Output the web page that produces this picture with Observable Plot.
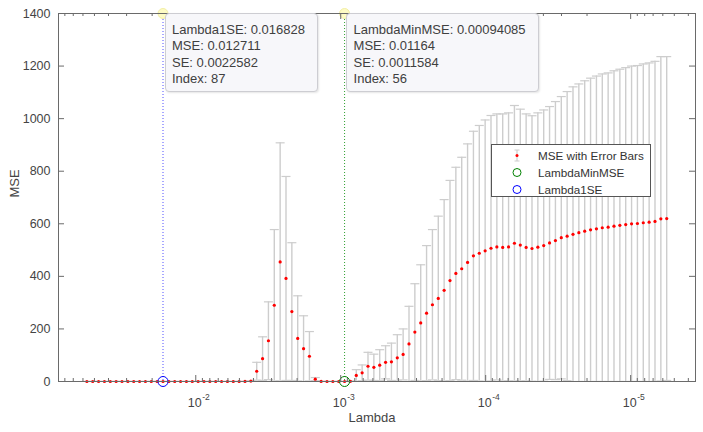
<!DOCTYPE html>
<html>
<head>
<meta charset="utf-8">
<script src="https://cdn.jsdelivr.net/npm/d3@7"></script>
<script src="https://cdn.jsdelivr.net/npm/@observablehq/plot@0.6"></script>
<style>
  body { margin: 0; background: #fff; }
  #wrap { position: relative; width: 703px; height: 432px; font-family: "Liberation Sans", Arial, Helvetica, sans-serif; }
  .tip { position: absolute; box-sizing: border-box; background: #f7f7fa; border: 1px solid #cdcdd2; border-radius: 4px;
         box-shadow: 1px 1px 2px rgba(0,0,0,0.10); color: #404040; font-size: 13px; line-height: 16.3px;
         padding: 8px 12px 0 6.5px; white-space: nowrap; height: 79px; }
  .legend { position: absolute; box-sizing: border-box; background: #fff; border: 1px solid #555; color: #333;
            font-size: 11.7px; }
  .legend .row { position: absolute; left: 0; height: 17px; line-height: 17px; white-space: nowrap; }
  .legend svg { position: absolute; left: 17px; top: 0; }
  .legend span { position: absolute; left: 46px; }
</style>
</head>
<body>
<div id="wrap"></div>
<script>
// Lambda values (left to right on the reversed log axis: index 100 ... 1)
const lambda = [5.6402e-2, 5.1391e-2, 4.6826e-2, 4.2666e-2, 3.8875e-2, 3.5422e-2, 3.2275e-2, 2.9408e-2, 2.6795e-2, 2.4415e-2,
  2.2246e-2, 2.0270e-2, 1.8469e-2, 1.6828e-2, 1.5333e-2, 1.3971e-2, 1.2730e-2, 1.1599e-2, 1.0569e-2, 9.6298e-3,
  8.7743e-3, 7.9948e-3, 7.2846e-3, 6.6374e-3, 6.0478e-3, 5.5105e-3, 5.0210e-3, 4.5749e-3, 4.1685e-3, 3.7982e-3,
  3.4608e-3, 3.1533e-3, 2.8732e-3, 2.6179e-3, 2.3854e-3, 2.1735e-3, 1.9804e-3, 1.8044e-3, 1.6441e-3, 1.4981e-3,
  1.3650e-3, 1.2437e-3, 1.1332e-3, 1.0326e-3, 9.4085e-4, 8.5726e-4, 7.8110e-4, 7.1171e-4, 6.4848e-4, 5.9087e-4,
  5.3838e-4, 4.9055e-4, 4.4698e-4, 4.0727e-4, 3.7109e-4, 3.3812e-4, 3.0808e-4, 2.8071e-4, 2.5578e-4, 2.3305e-4,
  2.1235e-4, 1.9349e-4, 1.7630e-4, 1.6063e-4, 1.4636e-4, 1.3336e-4, 1.2151e-4, 1.1072e-4, 1.0088e-4, 9.1921e-5,
  8.3755e-5, 7.6315e-5, 6.9535e-5, 6.3358e-5, 5.7729e-5, 5.2601e-5, 4.7928e-5, 4.3670e-5, 3.9791e-5, 3.6256e-5,
  3.3035e-5, 3.0100e-5, 2.7426e-5, 2.4990e-5, 2.2770e-5, 2.0747e-5, 1.8904e-5, 1.7224e-5, 1.5694e-5, 1.4300e-5,
  1.3030e-5, 1.1872e-5, 1.0817e-5, 9.856e-6, 8.981e-6, 8.183e-6, 7.456e-6, 6.794e-6, 6.190e-6, 5.640e-6];

// Cross-validated MSE for each lambda
const mse = [0.0213, 0.0201, 0.0189, 0.0178, 0.0168, 0.0160, 0.0152, 0.0146, 0.0140, 0.0136,
  0.0132, 0.0130, 0.0128, 0.012711, 0.0127, 0.0127, 0.0128, 0.0130, 0.0133, 0.0137,
  0.0143, 0.0151, 0.0163, 0.0182, 0.0214, 0.0266, 0.052, 0.21, 1.6, 39,
  87, 155, 290, 455, 392, 266, 164, 125, 96, 9,
  0.45, 0.06, 0.0162, 0.0121, 0.01164, 0.85, 23, 33, 58, 54,
  62, 73, 75, 90, 103, 143, 188, 223, 260, 292,
  316, 347, 384, 411, 429, 453, 478, 488, 497, 507,
  512, 510, 512, 526, 519, 510, 506, 511, 517, 527,
  536, 547, 553, 560, 566, 572, 577, 581, 585, 587,
  591, 594, 597, 600, 601, 604, 606, 609, 619, 620];

// Standard error of the MSE
const se = [0.0041, 0.0038, 0.0035, 0.0033, 0.0031, 0.0029, 0.0027, 0.0026, 0.0025, 0.0024,
  0.0023, 0.0023, 0.0022, 0.0022582, 0.0022, 0.0022, 0.0022, 0.0023, 0.0024, 0.0025,
  0.0027, 0.0030, 0.0034, 0.0041, 0.0052, 0.0071, 0.032, 0.19, 1.5, 34,
  83, 148, 288, 453, 388, 262, 162, 125, 94, 6,
  0.42, 0.05, 0.0031, 0.0013, 0.0011584, 0.8, 22, 30, 53, 50,
  59, 63, 71, 88, 97, 143, 184, 221, 257, 286,
  313, 345, 381, 404, 424, 451, 474, 486, 498, 505,
  506, 508, 510, 524, 517, 508, 505, 511, 516, 519,
  529, 537, 550, 561, 566, 572, 577, 581, 585, 587,
  591, 594, 597, 600, 601, 604, 606, 609, 617, 616];

// Selected lambdas (data tips)
const tipNames = ["Lambda1SE", "LambdaMinMSE"];
const tipLambda = [0.016828, 0.00094085];
const tipLambdaText = ["0.016828", "0.00094085"];
const tipMSE = [0.012711, 0.01164];
const tipMSEText = ["0.012711", "0.01164"];
const tipSEText = ["0.0022582", "0.0011584"];
const tipIndex = [87, 56];
const tipColor = ["#0000ff", "#008000"];
const tipLine = ["#5050ff", "#30a030"];

// Axis ticks
const yTicks = [0, 200, 400, 600, 800, 1000, 1200, 1400];
const xMajor = [1e-2, 1e-3, 1e-4, 1e-5];
const xExp = ["-2", "-3", "-4", "-5"];

const xDomain = [0.0885, 3.57e-6];
const yDomain = [0, 1400];

const rows = lambda.map((l, i) => ({lambda: l, mse: mse[i], lo: mse[i] - se[i], hi: mse[i] + se[i]}));
const tips = tipNames.map((n, i) => ({name: n, lambda: tipLambda[i], mse: tipMSE[i], color: tipColor[i], line: tipLine[i]}));

const xMinor = d3.scaleLog().domain([xDomain[1], xDomain[0]]).ticks()
  .filter(v => Math.abs(Math.log10(v) - Math.round(Math.log10(v))) > 1e-6);

const capSymbol = { draw(ctx) { ctx.moveTo(-4.5, 0); ctx.lineTo(4.5, 0); } };

const W = 703, H = 432, mL = 58, mR = 8, mT = 13, mB = 51;
const pw = W - mL - mR, ph = H - mT - mB;
const axisColor = "#6a6a6a";
const textColor = "#444";
const barColor = "#cdcdcd";

const chart = Plot.plot({
  width: W, height: H,
  marginLeft: mL, marginRight: mR, marginTop: mT, marginBottom: mB,
  x: {type: "log", domain: xDomain, axis: null},
  y: {domain: yDomain, axis: null},
  style: {fontFamily: '"Liberation Sans", Arial, Helvetica, sans-serif', color: textColor, background: "white"},
  marks: [
    // error bars
    Plot.ruleX(rows, {x: "lambda", y1: "lo", y2: "hi", stroke: barColor, strokeWidth: 1.4, clip: true}),
    Plot.dot(rows, {x: "lambda", y: "hi", symbol: capSymbol, r: 3, stroke: barColor, fill: "none", strokeWidth: 1.2, clip: true}),
    Plot.dot(rows, {x: "lambda", y: "lo", symbol: capSymbol, r: 3, stroke: barColor, fill: "none", strokeWidth: 1.2, clip: true}),
    // reference lines
    Plot.ruleX(tips, {x: "lambda", stroke: "line", strokeWidth: 1, strokeDasharray: "1,2"}),
    // MSE points
    Plot.dot(rows, {x: "lambda", y: "mse", r: 1.6, fill: "#ff0000", stroke: null}),
    // selected lambda circles
    Plot.dot(tips, {x: "lambda", y: "mse", r: 5, stroke: "color", fill: "none", strokeWidth: 1}),
    // data tip markers
    Plot.dot(tips, {x: "lambda", y: () => yDomain[1], r: 5, fill: "#fdfbc4", stroke: "#f3efa6", strokeWidth: 1}),
    // frame (box)
    Plot.frame({stroke: axisColor, strokeWidth: 1}),
    // y ticks (left & right, inward)
    Plot.tickY(yTicks, {y: d => d, insetRight: pw - 6, stroke: axisColor}),
    Plot.tickY(yTicks, {y: d => d, insetLeft: pw - 6, stroke: axisColor}),
    // x ticks (bottom & top, inward)
    Plot.tickX(xMajor, {x: d => d, insetTop: ph - 6, stroke: axisColor}),
    Plot.tickX(xMajor, {x: d => d, insetBottom: ph - 6, stroke: axisColor}),
    Plot.tickX(xMinor, {x: d => d, insetTop: ph - 3, stroke: axisColor}),
    Plot.tickX(xMinor, {x: d => d, insetBottom: ph - 3, stroke: axisColor}),
    // y tick labels
    Plot.text(yTicks, {y: d => d, frameAnchor: "left", dx: -8, textAnchor: "end", text: d => String(d), fontSize: 12.5, fill: textColor}),
    // x tick labels 10^k
    Plot.text(xMajor, {x: d => d, frameAnchor: "bottom", dy: 25, dx: 6, textAnchor: "end", text: () => "10", fontSize: 12.5, fill: textColor}),
    Plot.text(xMajor, {x: d => d, frameAnchor: "bottom", dy: 18, dx: 6.5, textAnchor: "start", text: (d, i) => xExp[i], fontSize: 8.5, fill: textColor}),
    // axis labels
    Plot.text(["Lambda"], {frameAnchor: "bottom", dy: 40, dx: -5, text: d => d, fontSize: 13, fill: textColor}),
    Plot.text(["MSE"], {frameAnchor: "left", dx: -44, rotate: -90, text: d => d, fontSize: 13, fill: textColor})
  ]
});

const wrap = document.getElementById("wrap");
wrap.append(chart);

// data tip boxes positioned from the scales
const sx = chart.scale("x");
tips.forEach((t, i) => {
  const d = document.createElement("div");
  d.className = "tip";
  d.style.left = (sx.apply(t.lambda) + 2) + "px";
  d.style.top = mT + "px";
  d.innerHTML = `${tipNames[i]}: ${tipLambdaText[i]}<br>MSE: ${tipMSEText[i]}<br>SE: ${tipSEText[i]}<br>Index: ${tipIndex[i]}`;
  wrap.append(d);
});

// legend
const legendItems = ["MSE with Error Bars", "LambdaMinMSE", "Lambda1SE"];
const lg = document.createElement("div");
lg.className = "legend";
lg.style.left = "491px"; lg.style.top = "144px"; lg.style.width = "160px"; lg.style.height = "53px";
const sym = [
  `<svg width="16" height="17"><line x1="8" x2="8" y1="3" y2="14" stroke="${barColor}" stroke-width="1.2"/><line x1="5.5" x2="10.5" y1="3" y2="3" stroke="${barColor}"/><line x1="5.5" x2="10.5" y1="14" y2="14" stroke="${barColor}"/><circle cx="8" cy="8.5" r="1.5" fill="#ff0000"/></svg>`,
  `<svg width="16" height="17"><circle cx="8" cy="8.5" r="4" fill="none" stroke="${tipColor[1]}"/></svg>`,
  `<svg width="16" height="17"><circle cx="8" cy="8.5" r="4" fill="none" stroke="${tipColor[0]}"/></svg>`
];
legendItems.forEach((name, i) => {
  const r = document.createElement("div");
  r.className = "row";
  r.style.top = (2 + i * 17) + "px";
  r.innerHTML = sym[i] + `<span>${name}</span>`;
  lg.append(r);
});
wrap.append(lg);
</script>
</body>
</html>
